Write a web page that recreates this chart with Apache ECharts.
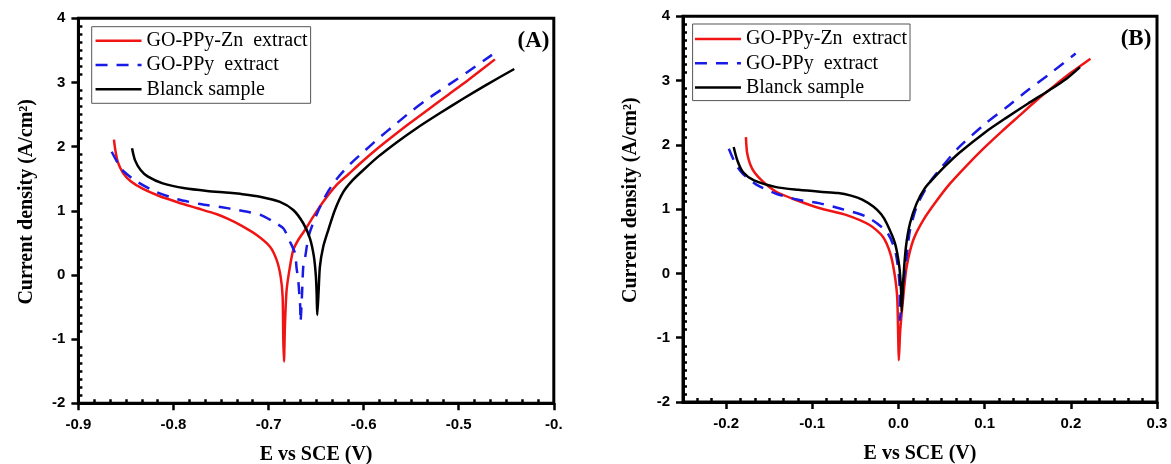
<!DOCTYPE html>
<html><head><meta charset="utf-8">
<script src="https://cdn.jsdelivr.net/npm/echarts/dist/echarts.min.js"></script>
<style>html,body{margin:0;padding:0;background:#fff}#c{width:1171px;height:464px}</style>
</head><body><div id="c"></div>
<script>
const seriesNames = ['GO-PPy-Zn  extract', 'GO-PPy  extract', 'Blanck sample'];
const xTicksA = [-0.9, -0.8, -0.7, -0.6, -0.5, -0.4];
const xLabelsA = ['-0.9', '-0.8', '-0.7', '-0.6', '-0.5', '-0.'];
const xTicksB = [-0.2, -0.1, 0, 0.1, 0.2, 0.3];
const xLabelsB = ['-0.2', '-0.1', '0.0', '0.1', '0.2', '0.3'];
const yTicks = [-2, -1, 0, 1, 2, 3, 4];
const yLabels = ['-2', '-1', '0', '1', '2', '3', '4'];

// Panel A: E vs SCE (V), log current density
const redA = [[-0.8626,2.11],[-0.8612,1.95],[-0.8585,1.76],[-0.853,1.59],[-0.845,1.46],[-0.832,1.34],[-0.815,1.23],[-0.795,1.13],[-0.775,1.04],[-0.755,0.95],[-0.742,0.87],[-0.730,0.78],[-0.7125,0.623],[-0.6985,0.441],[-0.6915,0.234],[-0.6873,-0.026],[-0.6852,-0.338],[-0.6845,-1.01],[-0.6838,-1.35],[-0.6828,-0.8],[-0.681,-0.234],[-0.6775,0.13],[-0.674,0.39],[-0.6688,0.545],[-0.6617,0.70],[-0.653,0.909],[-0.6425,1.142],[-0.6284,1.403],[-0.616,1.57],[-0.602,1.76],[-0.588,1.94],[-0.572,2.13],[-0.552,2.36],[-0.532,2.58],[-0.511,2.81],[-0.490,3.04],[-0.4619,3.36]];
const blueA = [[-0.865,1.92],[-0.854,1.64],[-0.8385,1.455],[-0.819,1.30],[-0.7957,1.18],[-0.772,1.106],[-0.749,1.055],[-0.735,1.02],[-0.719,0.975],[-0.7073,0.93],[-0.695,0.83],[-0.6845,0.727],[-0.6775,0.519],[-0.6722,0.338],[-0.6705,0.104],[-0.6688,-0.078],[-0.6677,-0.286],[-0.6667,-0.494],[-0.6664,-0.73],[-0.6648,-0.3],[-0.6635,0.13],[-0.6617,0.26],[-0.6575,0.623],[-0.6477,1.002],[-0.6375,1.30],[-0.627,1.52],[-0.614,1.73],[-0.600,1.92],[-0.585,2.12],[-0.568,2.33],[-0.550,2.55],[-0.530,2.77],[-0.510,2.97],[-0.490,3.17],[-0.465,3.43]];
const blackA = [[-0.8436,1.974],[-0.8405,1.79],[-0.8346,1.636],[-0.8268,1.532],[-0.8113,1.428],[-0.788,1.35],[-0.7646,1.31],[-0.7412,1.283],[-0.730,1.265],[-0.709,1.22],[-0.688,1.14],[-0.674,1.013],[-0.6635,0.806],[-0.6565,0.572],[-0.6523,0.285],[-0.6502,-0.026],[-0.6494,-0.3],[-0.6488,-0.623],[-0.6473,-0.234],[-0.646,0.13],[-0.6425,0.44],[-0.6372,0.70],[-0.6302,1.013],[-0.6215,1.29],[-0.612,1.47],[-0.600,1.64],[-0.585,1.84],[-0.565,2.07],[-0.545,2.28],[-0.520,2.52],[-0.495,2.75],[-0.470,2.97],[-0.4416,3.21]];

// Panel B: E - Ecorr (V)
const redB = [[-0.177,2.12],[-0.1754,1.86],[-0.1698,1.63],[-0.159,1.45],[-0.1419,1.27],[-0.1204,1.15],[-0.0911,1.013],[-0.0601,0.908],[-0.0334,0.753],[-0.0181,0.571],[-0.0095,0.313],[-0.0046,0.0],[-0.0015,-0.363],[-0.0002,-1.036],[0.0004,-1.35],[0.002,-0.9],[0.0056,-0.363],[0.0095,0.104],[0.0172,0.52],[0.0288,0.83],[0.0443,1.13],[0.060,1.40],[0.080,1.69],[0.100,1.96],[0.120,2.21],[0.140,2.45],[0.160,2.69],[0.180,2.91],[0.200,3.12],[0.2228,3.34]];
const blueB = [[-0.1968,1.94],[-0.1891,1.706],[-0.1805,1.55],[-0.1633,1.37],[-0.1419,1.24],[-0.1162,1.146],[-0.0911,1.09],[-0.0679,1.01],[-0.0369,0.882],[-0.0137,0.649],[-0.004,0.364],[-0.0002,0.053],[0.0015,-0.258],[0.0017,-0.725],[0.0048,-0.258],[0.0095,0.26],[0.0134,0.675],[0.0211,1.04],[0.0288,1.25],[0.038,1.45],[0.050,1.65],[0.070,1.96],[0.100,2.32],[0.125,2.58],[0.150,2.85],[0.175,3.10],[0.2056,3.42]];
const blackB = [[-0.1912,1.966],[-0.187,1.76],[-0.1805,1.577],[-0.1676,1.447],[-0.1419,1.343],[-0.1162,1.30],[-0.0911,1.27],[-0.070,1.25],[-0.055,1.21],[-0.042,1.15],[-0.0292,1.04],[-0.020,0.92],[-0.0137,0.78],[-0.004,0.468],[0.001,0.104],[0.003,-0.258],[0.0037,-0.596],[0.0056,-0.1],[0.0087,0.415],[0.0134,0.78],[0.0211,1.09],[0.0308,1.33],[0.040,1.47],[0.055,1.68],[0.070,1.87],[0.100,2.19],[0.125,2.42],[0.150,2.64],[0.175,2.85],[0.195,3.03],[0.2107,3.21]];

const colors = ['#f01414', '#1a1ae6', '#000000'];
const serif = '"Liberation Serif", "Times New Roman", serif';
const sans = '"Liberation Sans", Arial, sans-serif';

function labelFor(ticks, labels) {
  return function (v) {
    for (let i = 0; i < ticks.length; i++) if (Math.abs(ticks[i] - v) < 1e-7) return labels[i];
    return '';
  };
}
function minorList(min, max, step, every, off) {
  const out = [];
  const n = Math.round((max - min) / step);
  for (let i = 0; i <= n; i++) { if ((i - off) % every !== 0) out.push(+(min + i * step).toFixed(6)); }
  return out;
}

const grids = [
  { left: 78.4, top: 18.3, width: 475.4, height: 385, xmin: -0.9, xmax: -0.4, xt: xTicksA, xl: xLabelsA, minorOff: 0 },
  { left: 683, top: 16.3, width: 474, height: 385.7, xmin: -0.25, xmax: 0.3, xt: xTicksB, xl: xLabelsB, minorOff: 3 }
];

const xAxis = [], yAxis = [], grid = [];
grids.forEach((g, gi) => {
  grid.push({ left: g.left, top: g.top, width: g.width, height: g.height, show: true, borderColor: '#000', borderWidth: 3, backgroundColor: 'transparent', containLabel: false, outerBoundsMode: 'none' });
  xAxis.push({
    gridIndex: gi, type: 'value', min: g.xmin, max: g.xmax, position: 'bottom',
    name: 'E vs SCE (V)', nameLocation: 'middle', nameGap: 42,
    nameTextStyle: { fontFamily: serif, fontWeight: 'bold', fontSize: 20, color: '#000' },
    axisLine: { onZero: false, lineStyle: { color: '#000', width: 3 } },
    axisTick: { show: true, inside: false, length: 7, lineStyle: { color: '#000', width: 2.5 }, customValues: g.xt },
    axisLabel: { customValues: g.xt, formatter: labelFor(g.xt, g.xl), margin: 14, fontFamily: sans, fontWeight: 'bold', fontSize: 15, color: '#000' },
    splitLine: { show: false }
  });
  xAxis.push({
    gridIndex: gi, type: 'value', min: g.xmin, max: g.xmax, position: 'bottom',
    axisLine: { show: false, onZero: false }, axisLabel: { show: false }, splitLine: { show: false },
    axisTick: { show: true, inside: true, length: 4, lineStyle: { color: '#000', width: 2.5 }, customValues: minorList(g.xmin, g.xmax, 0.1 / 6, 6, g.minorOff) }
  });
  yAxis.push({
    gridIndex: gi, type: 'value', min: -2, max: 4, position: 'left',
    name: 'Current density (A/cm²)', nameLocation: 'middle', nameGap: 42,
    nameTextStyle: { fontFamily: serif, fontWeight: 'bold', fontSize: 20, color: '#000', padding: [0, 0, 0, 18] },
    axisLine: { onZero: false, lineStyle: { color: '#000', width: 3 } },
    axisTick: { show: true, inside: false, length: 7, lineStyle: { color: '#000', width: 2.5 }, customValues: yTicks },
    axisLabel: { customValues: yTicks, formatter: labelFor(yTicks, yLabels), margin: 13, fontFamily: sans, fontWeight: 'bold', fontSize: 15, color: '#000' },
    splitLine: { show: false }
  });
  yAxis.push({
    gridIndex: gi, type: 'value', min: -2, max: 4, position: 'left',
    axisLine: { show: false, onZero: false }, axisLabel: { show: false }, splitLine: { show: false },
    axisTick: { show: true, inside: true, length: 4, lineStyle: { color: '#000', width: 2.5 }, customValues: minorList(-2, 4, 0.125, 8, 0) }
  });
});

function mk(name, data, ci, xi, yi) {
  return {
    type: 'line', name: name, data: data, xAxisIndex: xi, yAxisIndex: yi,
    showSymbol: false, symbol: 'none', smooth: 0.25, animation: false,
    lineStyle: { color: colors[ci], width: 2.5, type: ci === 1 ? [12, 9] : 'solid' },
    itemStyle: { color: colors[ci] }
  };
}

const legendBase = {
  orient: 'vertical', itemWidth: 46, itemHeight: 2, itemGap: 4.3,
  itemStyle: { opacity: 0 },
  lineStyle: { width: 2.5 },
  borderColor: '#555', borderWidth: 1, backgroundColor: '#fff',
  textStyle: { fontFamily: serif, fontSize: 20, color: '#000', lineHeight: 20 },
  data: seriesNames, selectedMode: false
};

const option = {
  animation: false,
  backgroundColor: '#fff',
  grid: grid, xAxis: xAxis, yAxis: yAxis,
  legend: [
    Object.assign({}, legendBase, { left: 91.7, top: 26.7, padding: [4, 3, 4, 2.6] }),
    Object.assign({}, legendBase, { left: 692.6, top: 24, padding: [5, 3, 3, 1.1] })
  ],
  graphic: [
    { type: 'text', x: 549.4, y: 41, style: { text: '(A)', font: 'bold 23px ' + serif, fill: '#000', align: 'right', verticalAlign: 'middle' } },
    { type: 'text', x: 1151.3, y: 39, style: { text: '(B)', font: 'bold 23px ' + serif, fill: '#000', align: 'right', verticalAlign: 'middle' } }
  ],
  series: [
    mk(seriesNames[0], redA, 0, 0, 0),
    mk(seriesNames[1], blueA, 1, 0, 0),
    mk(seriesNames[2], blackA, 2, 0, 0),
    mk(seriesNames[0], redB, 0, 2, 2),
    mk(seriesNames[1], blueB, 1, 2, 2),
    mk(seriesNames[2], blackB, 2, 2, 2)
  ]
};
const chart = echarts.init(document.getElementById('c'), null, { renderer: 'canvas' });
chart.setOption(option);
</script></body></html>
